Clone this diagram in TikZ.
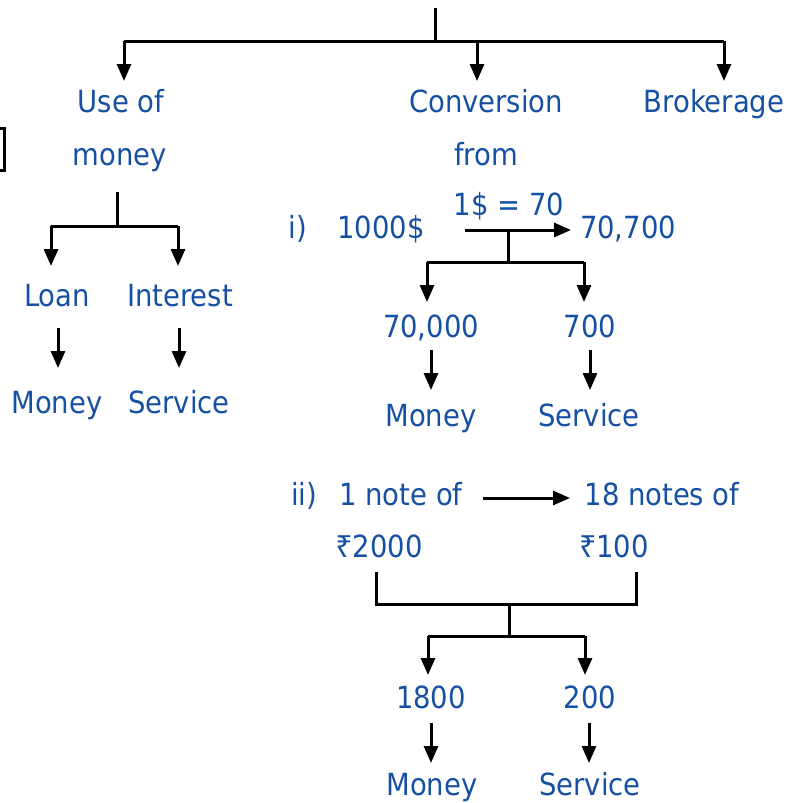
\documentclass[tikz,border=0pt]{standalone}
\usepackage{fontspec}
\setmainfont{DejaVu Sans Condensed}
\newfontfamily\rupeefont{Noto Sans}
\usetikzlibrary{arrows.meta}
\definecolor{txt}{RGB}{22,80,162}
\begin{document}
\begin{tikzpicture}[x=1pt,y=-1pt,
  lbl/.style={text=txt,font=\fontsize{30.5}{30.5}\selectfont,inner sep=0pt,anchor=base},
  ln/.style={line width=3pt,black},
  arr/.style={ln,-{Triangle[length=17pt,width=14pt]}}]
\useasboundingbox (0,0) rectangle (804,803);
\begin{scope}
\clip (0,0) rectangle (804,803);
\draw[ln] (-10,128) rectangle (4,170);
\end{scope}
% labels
\node[lbl] (use1) at (121,112) {Use of};
\node[lbl] (use2) at (120,165) {money};
\node[lbl] (conv1) at (486,112) {Conversion};
\node[lbl] (conv2) at (486,165) {from};
\node[lbl] (brok) at (714,112) {Brokerage};
\node[lbl] (loan) at (57,306) {Loan};
\node[lbl] (intr) at (180,306) {Interest};
\node[lbl] (mon1) at (57,413) {Money};
\node[lbl] (ser1) at (179,413) {Service};
\node[lbl] (ri) at (298,238) {i)};
\node[lbl] (usd) at (381,238) {1000\$};
\node[lbl] (rate) at (509,215) {1\$ = 70};
\node[lbl] (inr) at (628,238) {70,700};
\node[lbl] (k70) at (431,337) {70,000};
\node[lbl] (h7) at (590,337) {700};
\node[lbl] (mon2) at (431,426) {Money};
\node[lbl] (ser2) at (589,426) {Service};
\node[lbl] (rii) at (304,505) {ii)};
\node[lbl] (note1) at (401,505) {1 note of};
\node[lbl] (note18) at (662,505) {18 notes of};
\node[lbl] (r2000) at (379,557) {{\rupeefont ₹}2000};
\node[lbl] (r100) at (614,557) {{\rupeefont ₹}100};
\node[lbl] (n1800) at (431,708) {1800};
\node[lbl] (n200) at (590,708) {200};
\node[lbl] (mon3) at (432,795) {Money};
\node[lbl] (ser3) at (590,795) {Service};
% coordinates
\coordinate (top) at (435,8);
\coordinate (j0) at (435,41);
\coordinate (bl) at (124,41);
\coordinate (bm) at (477,41);
\coordinate (br) at (724,41);
\coordinate (tl) at (124,81);
\coordinate (tm) at (477,81);
\coordinate (tr) at (724,81);
\coordinate (u0) at (117,192);
\coordinate (u1) at (117,226);
\coordinate (ul) at (51,226);
\coordinate (ur) at (178,226);
\coordinate (ult) at (51,266);
\coordinate (urt) at (178,266);
\coordinate (la) at (58,328);
\coordinate (lb) at (58,368);
\coordinate (ia) at (179,328);
\coordinate (ib) at (179,368);
\coordinate (ca) at (465,230);
\coordinate (cb) at (571,230);
\coordinate (c0) at (508,230);
\coordinate (c1) at (508,262);
\coordinate (cl) at (427,262);
\coordinate (cr) at (584,262);
\coordinate (clt) at (427,302);
\coordinate (crt) at (584,302);
\coordinate (ka) at (431,350);
\coordinate (kb) at (431,390);
\coordinate (ha) at (590,350);
\coordinate (hb) at (590,390);
\coordinate (na) at (483,498);
\coordinate (nb) at (570,498);
\coordinate (bl1) at (376,572);
\coordinate (bl2) at (376,604);
\coordinate (br1) at (636,572);
\coordinate (br2) at (636,604);
\coordinate (m0) at (509,604);
\coordinate (m1) at (509,636);
\coordinate (ml) at (428,636);
\coordinate (mr) at (585,636);
\coordinate (mlt) at (428,675);
\coordinate (mrt) at (585,675);
\coordinate (ea) at (431,723);
\coordinate (eb) at (431,763);
\coordinate (fa) at (589,723);
\coordinate (fb) at (589,763);
% connectors
\draw[ln] (top) -- (j0);
\draw[ln] (bl) -- (br);
\draw[arr] (bl) -- (tl);
\draw[arr] (bm) -- (tm);
\draw[arr] (br) -- (tr);
\draw[ln] (u0) -- (u1);
\draw[ln] (ul) -- (ur);
\draw[arr] (ul) -- (ult);
\draw[arr] (ur) -- (urt);
\draw[arr] (la) -- (lb);
\draw[arr] (ia) -- (ib);
\draw[arr] (ca) -- (cb);
\draw[ln] (c0) -- (c1);
\draw[ln] (cl) -- (cr);
\draw[arr] (cl) -- (clt);
\draw[arr] (cr) -- (crt);
\draw[arr] (ka) -- (kb);
\draw[arr] (ha) -- (hb);
\draw[arr] (na) -- (nb);
\draw[ln] (bl1) -- (bl2) -- (br2) -- (br1);
\draw[ln] (m0) -- (m1);
\draw[ln] (ml) -- (mr);
\draw[arr] (ml) -- (mlt);
\draw[arr] (mr) -- (mrt);
\draw[arr] (ea) -- (eb);
\draw[arr] (fa) -- (fb);
\end{tikzpicture}
\end{document}
